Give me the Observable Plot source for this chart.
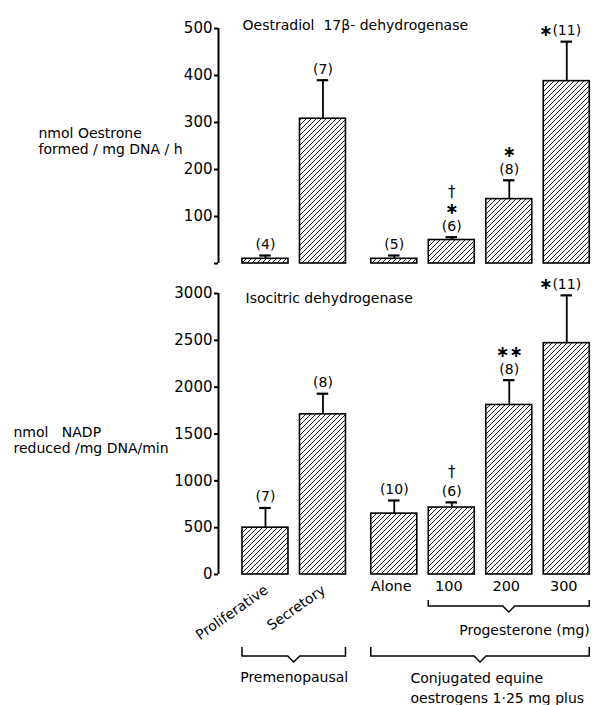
<!DOCTYPE html>
<html>
<head>
<meta charset="utf-8">
<script src="https://cdn.jsdelivr.net/npm/d3@7"></script>
<script src="https://cdn.jsdelivr.net/npm/@observablehq/plot@0.6"></script>
<style>
  html, body { margin: 0; padding: 0; background: white; }
  #chart { position: relative; width: 595px; height: 705px; background: white; }
  #chart > svg { position: absolute; left: 0; }
</style>
</head>
<body>
<div id="chart"></div>
<script>
// ---------- data ----------
const categories = ["Proliferative", "Secretory", "Alone", "100", "200", "300"];
const groupOf = [0, 0, 1, 1, 1, 1];
const groupLabels = ["Premenopausal", "Conjugated equine\noestrogens 1·25 mg plus"];
const dosed = [false, false, false, true, true, true];
const doseLabel = "Progesterone (mg)";

// Oestradiol 17β-dehydrogenase (nmol oestrone formed / mg DNA / h)
const oestroneMean = [10, 308, 10, 50, 137, 388];
const oestroneSE = [7, 82, 7, 6, 40, 84];
const oestroneN = [4, 7, 5, 6, 8, 11];
const oestroneStar = ["", "", "", "∗", "∗", "∗"];
const oestroneDagger = ["", "", "", "†", "", ""];
const oestroneTicks = [0, 100, 200, 300, 400, 500];

// Isocitric dehydrogenase (nmol NADP reduced / mg DNA / min)
const icdMean = [500, 1710, 650, 715, 1810, 2470];
const icdSE = [210, 220, 140, 55, 265, 510];
const icdN = [7, 8, 10, 6, 8, 11];
const icdStar = ["", "", "", "", "∗∗", "∗"];
const icdDagger = ["", "", "", "†", "", ""];
const icdTicks = [0, 500, 1000, 1500, 2000, 2500, 3000];

// ---------- layout helpers ----------
const GAP = 0.24; // extra space between treatment groups (in bar units)
const positions = categories.map((c, i) => i + GAP * groupOf[i]);
const HALF = 0.4, CAP = 0.1;
const xDomain = [-0.817, 5.705];
const FONT = "DejaVu Sans";

function rows(mean, se, n, star, dagger) {
  return categories.map((c, i) => ({
    cat: c, pos: positions[i], mean: mean[i], hi: mean[i] + se[i],
    n: n[i], star: star[i], dagger: dagger[i]
  }));
}

function hatchDefs(svg, id) {
  const defs = d3.select(svg).insert("defs", ":first-child");
  const p = defs.append("pattern").attr("id", id)
    .attr("patternUnits", "userSpaceOnUse").attr("width", 5).attr("height", 5);
  p.append("rect").attr("width", 5).attr("height", 5).attr("fill", "white");
  p.append("path").attr("d", "M-1,1L1,-1M0,5L5,0M4,6L6,4")
    .attr("stroke", "black").attr("stroke-width", 0.9);
}

function panel(opt) {
  const data = rows(opt.mean, opt.se, opt.n, opt.star, opt.dagger);
  const max = opt.ticks[opt.ticks.length - 1];
  const inline = d => d.hi > 0.9 * max;
  const svg = Plot.plot({
    width: 595, height: opt.height,
    marginLeft: 218, marginRight: 2, marginTop: opt.marginTop, marginBottom: opt.marginBottom,
    style: { fontFamily: FONT, background: "white", color: "black", overflow: "visible" },
    x: { domain: xDomain, axis: null },
    y: { domain: [0, max], axis: null },
    marks: [
      Plot.axisY({ ticks: opt.ticks, tickSize: 4, tickPadding: 2, strokeWidth: 2, fontSize: 15,
        tickFormat: d => (d === 0 && opt.hideZero ? "" : String(d)), label: null }),
      Plot.ruleX([xDomain[0]], { y1: 0, y2: max, strokeWidth: 2 }),
      Plot.rectY(data, { x1: d => d.pos - HALF, x2: d => d.pos + HALF, y: "mean",
        fill: `url(#${opt.id})`, stroke: "black", strokeWidth: 1.6 }),
      Plot.ruleX(data, { x: "pos", y1: "mean", y2: "hi", strokeWidth: 1.8 }),
      Plot.ruleY(data, { y: "hi", x1: d => d.pos - CAP, x2: d => d.pos + CAP, strokeWidth: 2.2 }),
      Plot.text(data, { x: "pos", y: "hi", text: d => `(${d.n})`, dy: -11, fontSize: 14, lineAnchor: "middle" }),
      Plot.text(data.filter(d => d.star && !inline(d)), { x: "pos", y: "hi", text: "star", dy: -28, fontSize: 16, fontWeight: "bold", lineAnchor: "middle" }),
      Plot.text(data.filter(d => d.star && inline(d)), { x: "pos", y: "hi", text: "star", dx: -21, dy: -11, fontSize: 16, fontWeight: "bold", lineAnchor: "middle" }),
      Plot.text(data.filter(d => d.dagger && d.star), { x: "pos", y: "hi", text: "dagger", dy: -45, fontSize: 15, lineAnchor: "middle" }),
      Plot.text(data.filter(d => d.dagger && !d.star), { x: "pos", y: "hi", text: "dagger", dy: -30, fontSize: 15, lineAnchor: "middle" }),
      Plot.text([opt.title], { text: d => d, frameAnchor: "top-left", dx: opt.titleDx, dy: opt.titleDy, textAnchor: "start", lineAnchor: "middle", fontSize: 14 }),
      Plot.text([opt.ylabel], { text: d => d, frameAnchor: "left", dx: opt.ylabelDx, dy: opt.ylabelDy, textAnchor: "start", lineAnchor: "middle", fontSize: 14, lineHeight: opt.lineHeight }),
      ...(opt.extra ? opt.extra(data) : [])
    ]
  });
  hatchDefs(svg, opt.id);
  return svg;
}

function bracketMark(specs) {
  return (index, scales, values, dims) => {
    const g = d3.create("svg:g").attr("fill", "none").attr("stroke", "black").attr("stroke-width", 1.5);
    const yb = dims.height - dims.marginBottom;
    for (const s of specs) {
      const x1 = scales.x(s.from), x2 = scales.x(s.to), xc = (x1 + x2) / 2;
      const t = yb + s.off, m = t + s.depth, b = m + 6;
      g.append("path").attr("d", `M${x1},${t}V${m}H${xc - 6}L${xc},${b}L${xc + 6},${m}H${x2}V${t}`);
    }
    return g.node();
  };
}

function bottomExtras(data) {
  const groupSpans = groupLabels.map((label, g) => {
    const ps = positions.filter((p, i) => groupOf[i] === g);
    return { label, from: d3.min(ps) - HALF, to: d3.max(ps) + HALF };
  });
  const dp = positions.filter((p, i) => dosed[i]);
  const doseSpan = { label: doseLabel, from: d3.min(dp) - HALF, to: d3.max(dp) + HALF };
  return [
    Plot.text(data.filter((d, i) => i < 2), { x: "pos", text: "cat", frameAnchor: "bottom", dy: 14, dx: 1, rotate: -35, textAnchor: "end", lineAnchor: "middle", fontSize: 14 }),
    Plot.text(data.filter((d, i) => i >= 2), { x: "pos", text: "cat", frameAnchor: "bottom", dy: 12, dx: -3, fontSize: 14.5, lineAnchor: "middle" }),
    bracketMark([
      { from: doseSpan.from, to: doseSpan.to, off: 26, depth: 6 },
      ...groupSpans.map(s => ({ from: s.from, to: s.to, off: 73, depth: 9 }))
    ]),
    Plot.text([doseSpan], { x: "to", text: "label", frameAnchor: "bottom", dy: 56, textAnchor: "end", fontSize: 14, lineAnchor: "middle" }),
    Plot.text([groupSpans[0]], { x: d => (d.from + d.to) / 2, text: "label", frameAnchor: "bottom", dy: 103, fontSize: 14, lineAnchor: "middle" }),
    Plot.text([groupSpans[1]], { x: d => (d.from + d.to) / 2, text: "label", frameAnchor: "bottom", dy: 94, dx: -70, textAnchor: "start", fontSize: 14, lineAnchor: "top", lineHeight: 1.43 })
  ];
}

const chart = document.getElementById("chart");

const topPanel = panel({
  id: "hatchTop", height: 270, marginTop: 28, marginBottom: 7,
  mean: oestroneMean, se: oestroneSE, n: oestroneN, star: oestroneStar, dagger: oestroneDagger,
  ticks: oestroneTicks, hideZero: true,
  title: "Oestradiol  17β- dehydrogenase", titleDx: 24, titleDy: -3,
  ylabel: "nmol Oestrone\nformed / mg DNA / h", ylabelDx: -180, ylabelDy: -5, lineHeight: 1.12
});
topPanel.style.top = "0px";
chart.appendChild(topPanel);

const bottomPanel = panel({
  id: "hatchBottom", height: 435, marginTop: 23, marginBottom: 131,
  mean: icdMean, se: icdSE, n: icdN, star: icdStar, dagger: icdDagger,
  ticks: icdTicks, hideZero: false,
  title: "Isocitric dehydrogenase", titleDx: 27, titleDy: 5,
  ylabel: "nmol   NADP\nreduced /mg DNA/min", ylabelDx: -205, ylabelDy: 6, lineHeight: 1.12,
  extra: bottomExtras
});
bottomPanel.style.top = "270px";
chart.appendChild(bottomPanel);
</script>
</body>
</html>
